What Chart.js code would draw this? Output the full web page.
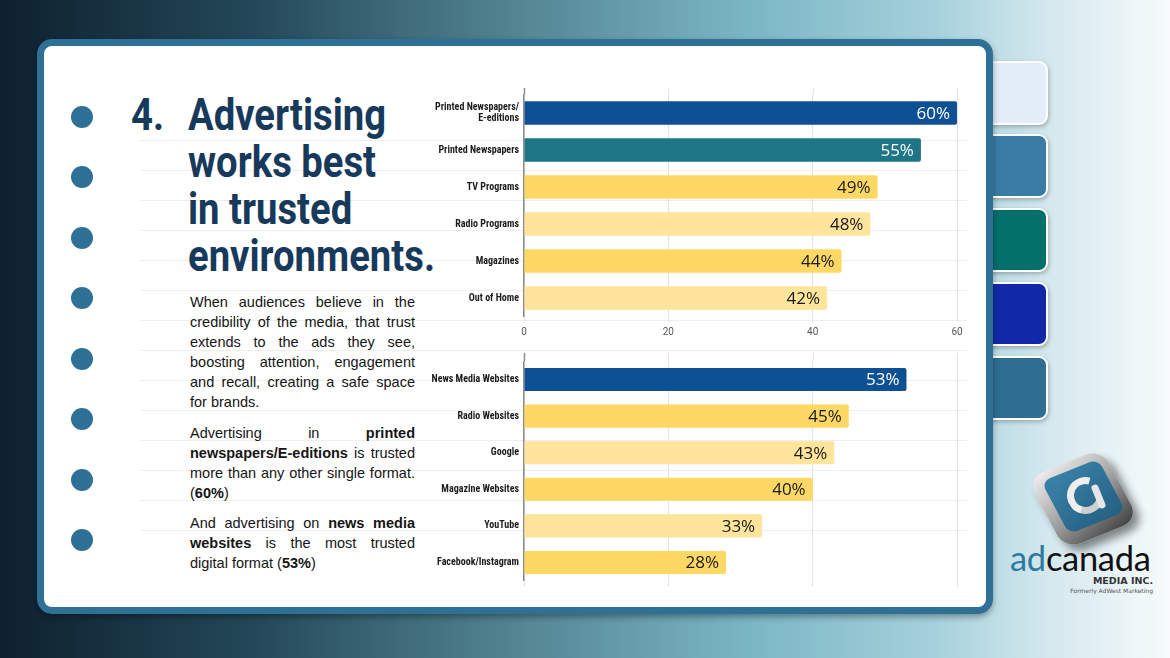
<!DOCTYPE html>
<html>
<head>
<meta charset="utf-8">
<script src="https://cdn.jsdelivr.net/npm/chart.js@4.4.1/dist/chart.umd.min.js"></script>
<style>
  html, body { margin: 0; padding: 0; }
  body {
    width: 1170px; height: 658px; position: relative; overflow: hidden;
    background: linear-gradient(to right, #0e202e 0%, #24495a 22%, #4f7f8d 42%, #7bb6c5 64%, #a6d1dc 80%, #d6e9ef 90%, #f7fbfc 100%);
    font-family: "Liberation Sans", Arial, sans-serif;
  }
  .tab { position: absolute; left: 972px; width: 72px; border: 2px solid #fff; border-radius: 9px;
         box-shadow: 1px 2px 4px rgba(0,0,0,0.25); }
  .card { position: absolute; left: 37px; top: 39px; width: 942px; height: 561px;
          border: 7px solid #2f7196; border-radius: 15px; background: #fff;
          box-shadow: 0 3px 6px rgba(0,0,0,0.35); }
  .rule { position: absolute; left: 140px; width: 827px; height: 1px; background: #eeeeee; }
  .dot { position: absolute; left: 71px; width: 22px; height: 22px; border-radius: 50%; background: #2f7196; }
  .num, .tl { position: absolute; color: #173a5c; font-family: Roboto, sans-serif; font-weight: 700;
              font-size: 45px; line-height: 47px; transform-origin: 0 0; white-space: nowrap; }
  .body { position: absolute; left: 190px; top: 292px; width: 225px; font-size: 14.5px; line-height: 20px;
          color: #151515; text-align: justify; }
  .body p { margin: 0 0 10.5px 0; }
  .chartbox { position: absolute; left: 420px; width: 550px; }
  .logo { position: absolute; }
</style>
</head>
<body>
<div class="tab" style="top:61px;height:60px;background:#e3eefa"></div>
<div class="tab" style="top:134px;height:60px;background:#3a7ca6"></div>
<div class="tab" style="top:208px;height:60px;background:#03706a"></div>
<div class="tab" style="top:282px;height:60px;background:#1129a6"></div>
<div class="tab" style="top:356px;height:60px;background:#2e6e93"></div>

<div class="card"></div>
<div id="rules"></div>

<div class="dot" style="top:106px"></div>
<div class="dot" style="top:166px"></div>
<div class="dot" style="top:227px"></div>
<div class="dot" style="top:287px"></div>
<div class="dot" style="top:348px"></div>
<div class="dot" style="top:408px"></div>
<div class="dot" style="top:469px"></div>
<div class="dot" style="top:529px"></div>

<div class="num" id="num" style="left:131px;top:91px">4.</div>
<div class="tl" id="tl" style="left:188px;top:91px">
  <div>Advertising</div><div>works best</div><div>in trusted</div><div id="longest">environments.</div>
</div>

<div class="body">
  <p>When audiences believe in the credibility of the media, that trust extends to the ads they see, boosting attention, engagement and recall, creating a safe space for brands.</p>
  <p>Advertising in <b>printed newspapers/E-editions</b> is trusted more than any other single format. (<b>60%</b>)</p>
  <p>And advertising on <b>news media websites</b> is the most trusted digital format (<b>53%</b>)</p>
</div>

<div class="chartbox" style="top:88px;height:257px"><canvas id="printChart"></canvas></div>
<div class="chartbox" style="top:353px;height:235px"><canvas id="digitalChart"></canvas></div>

<!-- logo -->
<div class="logo" style="left:1043px;top:459px;width:80px;height:80px;border-radius:17px;
  background:linear-gradient(160deg,#f4f4f4,#9a9a9a 55%,#3c3c3c);transform:rotate(-22deg) skewX(6deg);
  box-shadow:3px 8px 8px rgba(0,0,0,0.45)"></div>
<div class="logo" style="left:1053px;top:467px;width:61px;height:59px;border-radius:9px;
  background:linear-gradient(160deg,#3b83ab,#245f80);transform:rotate(-22deg) skewX(6deg)"></div>
<div class="logo" style="left:1067px;top:477px;width:23px;height:23px;border:7px solid #eee;border-radius:50%;
  border-bottom-color:#cfcfcf;border-right-color:transparent;transform:rotate(-30deg)"></div>
<div class="logo" style="left:1095px;top:484px;width:7px;height:25px;background:#e6e6e6;border-radius:3px;transform:rotate(-22deg)"></div>
<div class="logo" style="left:1010px;top:538px;font-family:Lato,sans-serif;font-weight:400;font-size:34.5px;line-height:40px;letter-spacing:-0.3px">
  <span style="color:#2e7aa0">ad</span><span style="color:#111">canada</span></div>
<div class="logo" style="left:1090px;top:575px;width:63px;text-align:right;font-family:'DejaVu Sans',sans-serif;font-weight:bold;font-size:9.5px;color:#333">MEDIA INC.</div>
<div class="logo" style="left:1050px;top:587px;width:103px;text-align:right;font-family:'DejaVu Sans',sans-serif;font-size:6px;color:#555">Formerly AdWest Marketing</div>

<script>
// print / traditional formats
const printCats = [['Printed Newspapers/', 'E-editions'], 'Printed Newspapers', 'TV Programs', 'Radio Programs', 'Magazines', 'Out of Home'];
const printVals = [60, 55, 49, 48, 44, 42];

// digital formats
const digitalCats = ['News Media Websites', 'Radio Websites', 'Google', 'Magazine Websites', 'YouTube', 'Facebook/Instagram'];
const digitalVals = [53, 45, 43, 40, 33, 28];

const xTicks = [0, 20, 40, 60];

// notebook rules behind everything
const rules = document.getElementById('rules');
for (let y = 140; y <= 530; y += 30) {
    const r = document.createElement('div');
    r.className = 'rule';
    r.style.top = y + 'px';
    rules.appendChild(r);
}

// squeeze the title into the condensed look of the original
const tl = document.getElementById('tl');
const sx = 247 / document.getElementById('longest').getBoundingClientRect().width;
tl.style.transform = 'scaleX(' + sx + ')';
document.getElementById('num').style.transform = 'scaleX(' + sx + ')';

const DARK_BLUE = '#0e5094', TEAL = '#1e7585', GOLD = '#fed864', PALE = '#fee59b';

// first bar is the highlighted one, printed newspapers teal, the rest alternate gold / pale
function barColours(cats) {
    let n = 0;
    return cats.map((c, i) => {
        if (i === 0) return DARK_BLUE;
        if (c === 'Printed Newspapers') return TEAL;
        return (n++ % 2 === 0) ? GOLD : PALE;
    });
}

// percentage written inside the end of each bar
const valueLabels = {
    id: 'valueLabels',
    afterDatasetsDraw(chart) {
        const ctx = chart.ctx;
        const ds = chart.data.datasets[0];
        const meta = chart.getDatasetMeta(0);
        ctx.save();
        ctx.font = '17px "Open Sans", sans-serif';
        ctx.textAlign = 'right';
        ctx.textBaseline = 'middle';
        meta.data.forEach((bar, i) => {
            const c = ds.backgroundColor[i];
            ctx.fillStyle = (c === DARK_BLUE || c === TEAL) ? '#ffffff' : '#1a1a1a';
            ctx.fillText(ds.data[i] + '%', bar.x - 7, bar.y + 1);
        });
        ctx.restore();
    }
};

// vertical grid lines poke out a little above the plot
const gridTop = {
    id: 'gridTop',
    beforeDatasetsDraw(chart, args, opts) {
        const ctx = chart.ctx, x = chart.scales.x, top = chart.chartArea.top;
        ctx.save();
        x.ticks.forEach(t => {
            const px = Math.round(x.getPixelForValue(t.value)) + 0.5;
            ctx.strokeStyle = t.value === 0 ? '#8c8c8c' : '#e2e2e2';
            ctx.lineWidth = t.value === 0 ? 1.5 : 1;
            ctx.beginPath();
            ctx.moveTo(px, top - opts.up);
            ctx.lineTo(px, top);
            ctx.stroke();
        });
        ctx.restore();
    }
};

function makeChart(id, cats, vals, showTicks, padTop, axisH) {
    return new Chart(document.getElementById(id), {
        type: 'bar',
        data: {
            labels: cats,
            datasets: [{
                data: vals,
                backgroundColor: barColours(cats),
                barPercentage: 0.63,
                categoryPercentage: 1,
                borderRadius: 2
            }]
        },
        plugins: [valueLabels, gridTop],
        options: {
            indexAxis: 'y',
            responsive: true,
            maintainAspectRatio: false,
            animation: false,
            layout: { padding: { top: padTop, right: 13, bottom: 0, left: 0 } },
            plugins: {
                legend: { display: false },
                tooltip: { enabled: false },
                gridTop: { up: padTop }
            },
            scales: {
                x: {
                    min: 0, max: 60,
                    afterBuildTicks: s => { s.ticks = xTicks.map(v => ({ value: v })); },
                    afterFit: s => { s.height = axisH; s.paddingLeft = 0; s.paddingRight = 0; },
                    border: { display: false },
                    grid: { color: '#e2e2e2', drawTicks: true, tickLength: 6 },
                    ticks: { display: showTicks, padding: 4, color: '#555', font: { family: 'Roboto', size: 10 } }
                },
                y: {
                    // fixed label column, and no extra room for the label overhang
                    afterFit: s => { s.width = 104; s.paddingTop = 0; s.paddingBottom = 0; },
                    grid: { display: false, drawTicks: false },
                    border: { display: true, color: '#8c8c8c', width: 1.5 },
                    ticks: {
                        padding: 5, color: '#1c1c1c',
                        font: { family: '"Liberation Sans Narrow", "Roboto Condensed", "Liberation Sans"', size: 10, weight: 'bold', lineHeight: 1.15 }
                    }
                }
            }
        }
    });
}

makeChart('printChart', printCats, printVals, true, 6.5, 28.5);
makeChart('digitalChart', digitalCats, digitalVals, false, 8.25, 7.25);
</script>
</body>
</html>
